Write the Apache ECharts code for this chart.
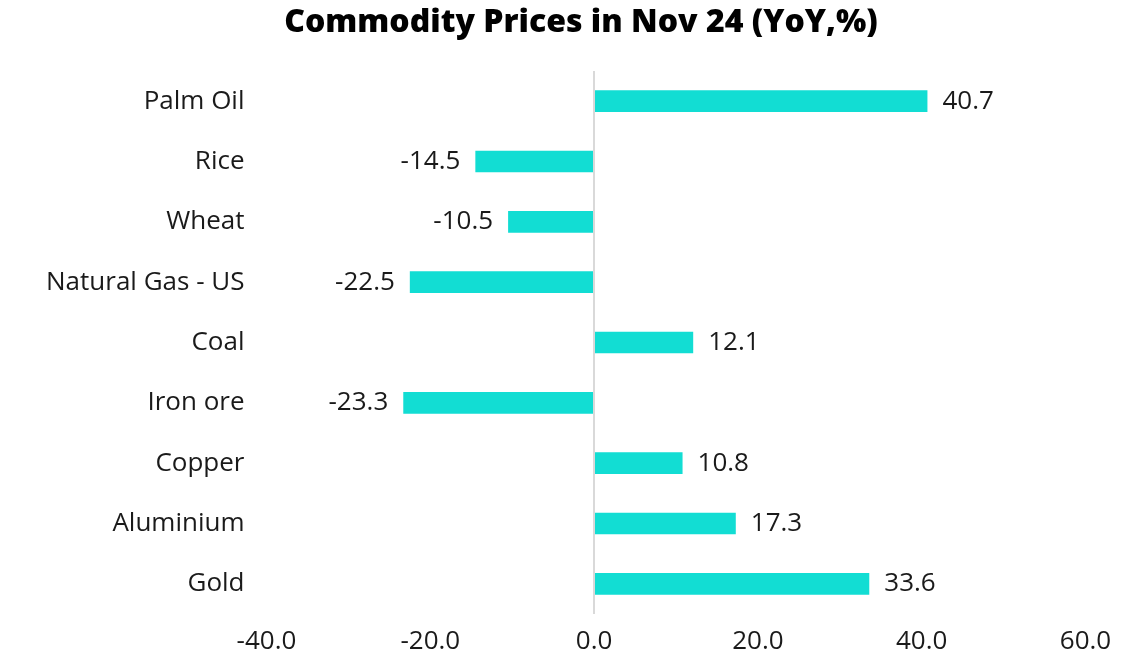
<!DOCTYPE html>
<html>
<head>
<meta charset="utf-8">
<script src="https://cdn.jsdelivr.net/npm/echarts@6/dist/echarts.min.js"></script>
<style>html,body{margin:0;padding:0;background:#fff;}#chart{width:1138px;height:660px;}</style>
</head>
<body>
<div id="chart"></div>
<script>
const categories = ['Palm Oil','Rice','Wheat','Natural Gas - US','Coal','Iron ore','Copper','Aluminium','Gold'];
const values = [40.7, -14.5, -10.5, -22.5, 12.1, -23.3, 10.8, 17.3, 33.6];
const xTicks = {min: -40, max: 60, interval: 20};
const titleText = 'Commodity Prices in Nov 24 (YoY,%)';

const FONT = 'Open Sans';
const chart = echarts.init(document.getElementById('chart'));
chart.setOption({
  animation: false,
  backgroundColor: '#fff',
  title: {
    text: titleText,
    left: 576, top: 2, textAlign: 'center',
    textStyle: {fontFamily: FONT, fontWeight: 800, fontSize: 32, color: '#000'}
  },
  grid: {left: 266.5, right: 52.5, top: 71, bottom: 46, containLabel: false},
  xAxis: {
    type: 'value', min: xTicks.min, max: xTicks.max, interval: xTicks.interval,
    axisLine: {show: false}, axisTick: {show: false}, splitLine: {show: false},
    axisLabel: {fontFamily: FONT, fontSize: 26, color: '#1a1a1a', margin: 15,
      formatter: v => v.toFixed(1)}
  },
  yAxis: {
    type: 'category', inverse: true, data: categories,
    axisLine: {show: false}, axisTick: {show: false}, splitLine: {show: false},
    axisLabel: {fontFamily: FONT, fontSize: 26, color: '#1a1a1a', margin: 22}
  },
  series: [{
    type: 'bar', barWidth: '36%',
    data: values.map(v => ({value: v, label: {position: v < 0 ? 'left' : 'right'}})),
    itemStyle: {color: '#12ddd3'},
    label: {show: true, distance: 15, fontFamily: FONT, fontSize: 26, color: '#1a1a1a',
      formatter: p => p.value.toFixed(1)},
    markLine: {
      silent: true, symbol: 'none', label: {show: false},
      lineStyle: {color: '#d9d9d9', width: 2, type: 'solid'},
      data: [{xAxis: 0}]
    }
  }]
});
</script>
</body>
</html>
